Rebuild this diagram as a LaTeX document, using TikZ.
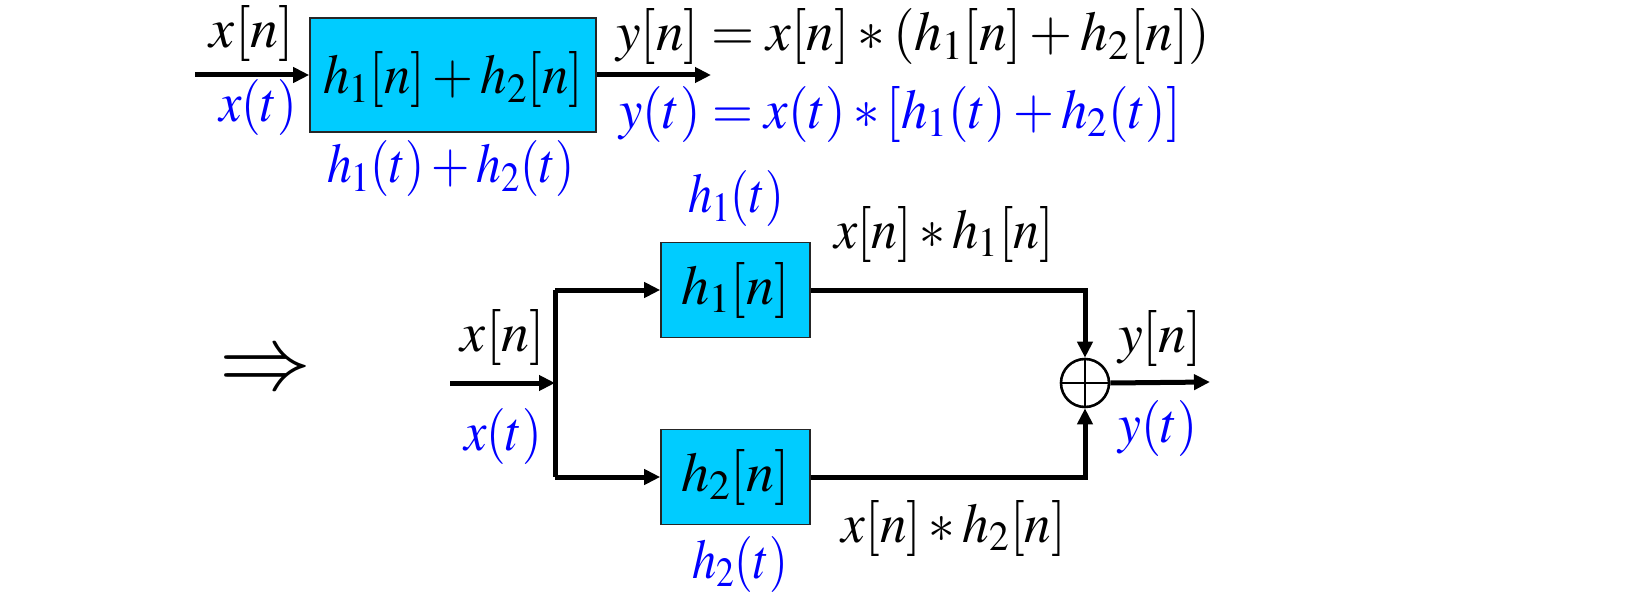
\documentclass[tikz,border=0pt]{standalone}
\usepackage{mathptmx}
\usepackage{graphicx}
\usetikzlibrary{arrows.meta}
\definecolor{boxcyan}{RGB}{0,204,255}
\definecolor{lblue}{RGB}{0,0,255}
\newcommand{\hsq}[2]{\scalebox{#1}[1]{#2}}
\tikzset{
  blk/.style={draw=black!85, line width=0.8pt, fill=boxcyan, inner sep=0pt},
  wire/.style={line width=2.5pt},
  arr/.style={wire, -{Triangle[length=8pt,width=7.5pt]}},
  lbl/.style={font=\fontsize{28}{32}\selectfont, inner sep=0pt},
  blbl/.style={lbl, text=lblue},
  sumnode/.style={circle, draw, line width=1.3pt, minimum size=24pt, inner sep=0pt, fill=white},
}
\begin{document}
\begin{tikzpicture}[x=0.5pt,y=-0.5pt]
\useasboundingbox (0,0) rectangle (1644,610);
% top system
\node[blk, minimum width=143pt, minimum height=57pt] (topbox) at (453,75) {};
\node[lbl] (toptxt) at (453,80) {\hsq{0.94}{$h_1[n] + h_2[n]$}};
\coordinate (topin) at (195,75);
\coordinate (topout) at (711,75);
\draw[arr] (topin) -- (topbox.west);
\draw[arr] (topbox.east) -- (topout);
\node[lbl] (txn) at (252,34) {$x[n]$};
\node[blbl] (txt) at (258,108) {\hsq{0.9}{$x(t)$}};
\node[blbl] (tht) at (451,169) {\hsq{0.88}{$h_1(t) + h_2(t)$}};
\node[lbl] (teqn) at (913,37) {\hsq{0.99}{$y[n] = x[n] \ast (h_1[n] + h_2[n])$}};
\node[blbl] (teqt) at (900,114) {\hsq{0.94}{$y(t) = x(t) \ast [h_1(t) + h_2(t)]$}};
% implies
\node[inner sep=0pt, font=\fontsize{46}{50}\selectfont] (impl) at (265,373) {$\Rightarrow$};
% bottom system
\node[blk, minimum width=74.5pt, minimum height=47.5pt] (hone) at (735.5,290) {};
\node[lbl] (honetxt) at (735.5,290) {$h_1[n]$};
\node[blk, minimum width=74.5pt, minimum height=47.5pt] (htwo) at (735.5,477) {};
\node[lbl] (htwotxt) at (735.5,477) {$h_2[n]$};
\node[sumnode] (sum) at (1085,383) {};
\draw[line width=1.3pt] (sum.west) -- (sum.east) (sum.north) -- (sum.south);
\coordinate (inp) at (450,383);
\coordinate (split) at (555,383);
\coordinate (stop) at (555,290);
\coordinate (sbot) at (555,477);
\coordinate (ctop) at (1085,290);
\coordinate (cbot) at (1085,477);
\coordinate (outp) at (1210,382);
\draw[arr] (inp) -- (split);
\draw[wire] (stop) -- (sbot);
\draw[arr] (stop) -- (hone.west);
\draw[arr] (sbot) -- (htwo.west);
\draw[arr] (hone.east) -- (ctop) -- (sum.north);
\draw[arr] (htwo.east) -- (cbot) -- (sum.south);
\draw[arr] (sum.east) -- (outp);
\node[blbl] (honet) at (736,199) {\hsq{0.86}{$h_1(t)$}};
\node[blbl] (htwot) at (740,564) {\hsq{0.86}{$h_2(t)$}};
\node[lbl] (bxn) at (503,337) {$x[n]$};
\node[blbl] (bxt) at (503,436) {\hsq{0.9}{$x(t)$}};
\node[lbl] (prodone) at (944,234) {\hsq{0.93}{$x[n] \ast h_1[n]$}};
\node[lbl] (prodtwo) at (954,528) {\hsq{0.95}{$x[n] \ast h_2[n]$}};
\node[lbl] (byn) at (1160,338) {$y[n]$};
\node[blbl] (byt) at (1158,428) {\hsq{0.92}{$y(t)$}};
\end{tikzpicture}
\end{document}
